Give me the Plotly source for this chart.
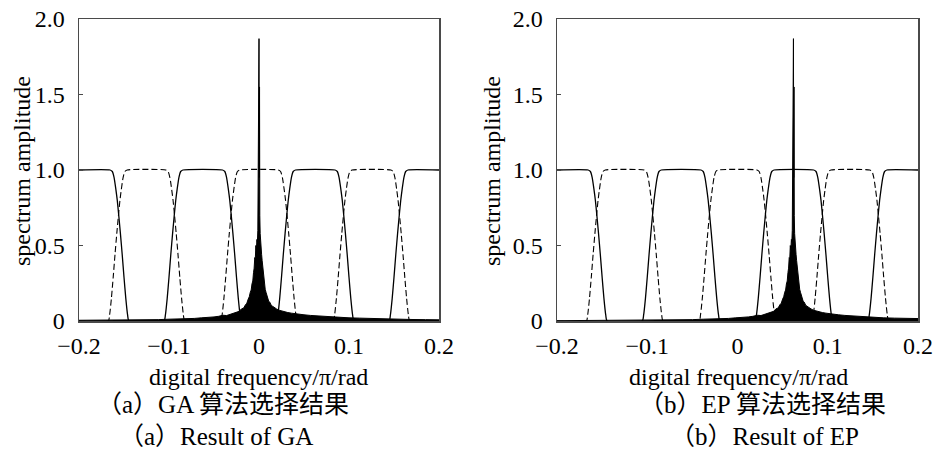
import plotly.graph_objects as go

# ---------------- data ----------------
x_ticks = [-0.2, -0.1, 0, 0.1, 0.2]
x_tick_text = ["\u22120.2", "\u22120.1", "0", "0.1", "0.2"]
y_ticks = [0, 0.5, 1.0, 1.5, 2.0]
y_tick_text = ["0", "0.5", "1.0", "1.5", "2.0"]

# crossover frequencies of the filter bank (same for both panels)
crossovers = [-0.156, -0.094, -0.031, 0.031, 0.094, 0.156]
# falling-edge profile of a filter around a crossover (offset, amplitude)
edge_offsets = [-0.0095, -0.007, -0.005, -0.003, -0.0015, 0.0, 0.002, 0.004, 0.006, 0.008, 0.010, 0.0115]
edge_values = [1.0, 0.99, 0.95, 0.87, 0.80, 0.71, 0.58, 0.44, 0.29, 0.15, 0.04, 0.0]

# spectrum envelope relative to the peak frequency (offset, amplitude)
spec_offsets = [
    -0.262, -0.24, -0.22, -0.20, -0.185, -0.17, -0.155, -0.14, -0.125, -0.112, -0.10, -0.09,
    -0.08, -0.072, -0.064, -0.057, -0.050, -0.045, -0.040, -0.036, -0.032, -0.028, -0.025,
    -0.022, -0.0195, -0.017, -0.015, -0.0135, -0.012, -0.0108, -0.0097, -0.0087, -0.0078,
    -0.0069, -0.0061, -0.0054, -0.0047, -0.0041, -0.0035, -0.0029, -0.0023, -0.0018,
    -0.0013, -0.0009, -0.0006, -0.0003, 0.0, 0.0003, 0.0006, 0.0009, 0.0013, 0.0018,
    0.0023, 0.0029, 0.0035, 0.0041, 0.0047, 0.0054, 0.0061, 0.0069, 0.0078, 0.0087,
    0.0097, 0.0108, 0.012, 0.0135, 0.015, 0.017, 0.0195, 0.022, 0.025, 0.028, 0.032,
    0.036, 0.040, 0.045, 0.050, 0.057, 0.064, 0.072, 0.08, 0.09, 0.10, 0.112, 0.125,
    0.14, 0.155, 0.17, 0.185, 0.20, 0.22, 0.24, 0.262]
spec_values = [
    0.002, 0.003, 0.003, 0.004, 0.003, 0.005, 0.004, 0.006, 0.008, 0.009, 0.012, 0.013,
    0.016, 0.017, 0.021, 0.022, 0.027, 0.031, 0.038, 0.036, 0.045, 0.050, 0.058,
    0.064, 0.080, 0.086, 0.108, 0.118, 0.145, 0.160, 0.190, 0.205, 0.245,
    0.265, 0.320, 0.350, 0.420, 0.410, 0.500, 0.470, 0.540, 0.520,
    0.600, 1.07, 0.75, 1.25, 1.87, 0.95, 1.55, 0.70, 0.58, 0.50,
    0.52, 0.44, 0.40, 0.36, 0.33, 0.27, 0.25, 0.21, 0.19, 0.165,
    0.15, 0.13, 0.125, 0.105, 0.098, 0.088, 0.080, 0.072, 0.066, 0.060, 0.056,
    0.052, 0.048, 0.045, 0.041, 0.037, 0.034, 0.030, 0.027, 0.024, 0.021, 0.019, 0.016,
    0.014, 0.012, 0.010, 0.009, 0.007, 0.005, 0.004, 0.003]

peak_centers = [0.0, 0.062]
y_title = "spectrum amplitude"
x_title = "digital frequency/\u03c0/rad"
captions_cn = ["\uff08a\uff09GA \u7b97\u6cd5\u9009\u62e9\u7ed3\u679c", "\uff08b\uff09EP \u7b97\u6cd5\u9009\u62e9\u7ed3\u679c"]
captions_en = ["\uff08a\uff09Result of GA", "\uff08b\uff09Result of EP"]

# ---------------- build filter curves from the read profile ----------------
def filter_curve(start_high):
    xs, ys = [-0.2], [1.0 if start_high else 0.0]
    high = start_high
    for c in crossovers:
        if high:
            pts = [(c + o, v) for o, v in zip(edge_offsets, edge_values)]
        else:
            pts = [(c - o, v) for o, v in zip(edge_offsets, edge_values)][::-1]
        for px, py in pts:
            xs.append(px)
            ys.append(py)
        high = not high
    xs.append(0.2)
    ys.append(1.0 if high else 0.0)
    return xs, ys

solid_x, solid_y = filter_curve(True)
dash_x, dash_y = filter_curve(False)

W, H = 936, 460
left_px = [(79, 439), (557, 918)]
top_px, bot_px = 19, 321

fig = go.Figure()
serif = "Liberation Serif, Times New Roman, serif"
cap_font = "Liberation Serif, Noto Sans CJK SC"
axis_color = "#4a4a4a"

for i in range(2):
    xa = "x" if i == 0 else "x2"
    ya = "y" if i == 0 else "y2"
    sx = [peak_centers[i] + o for o in spec_offsets]
    fig.add_trace(go.Scatter(x=sx, y=spec_values, mode="lines",
                             line=dict(color="black", width=1),
                             fill="tozeroy", fillcolor="black",
                             xaxis=xa, yaxis=ya, showlegend=False, hoverinfo="skip"))
    fig.add_trace(go.Scatter(x=solid_x, y=solid_y, mode="lines",
                             line=dict(color="black", width=1.3, shape="spline", smoothing=0.6),
                             xaxis=xa, yaxis=ya, showlegend=False, hoverinfo="skip"))
    fig.add_trace(go.Scatter(x=dash_x, y=dash_y, mode="lines",
                             line=dict(color="black", width=1.1, dash="6px,3px", shape="spline", smoothing=0.6),
                             xaxis=xa, yaxis=ya, showlegend=False, hoverinfo="skip"))

layout = dict(width=W, height=H, margin=dict(l=0, r=0, t=0, b=0, autoexpand=False),
              paper_bgcolor="white", plot_bgcolor="white",
              font=dict(family=serif, size=24, color="black"), showlegend=False)

for i in range(2):
    xkey = "xaxis" if i == 0 else "xaxis2"
    ykey = "yaxis" if i == 0 else "yaxis2"
    l, r = left_px[i]
    layout[xkey] = dict(domain=[l / W, r / W], range=[-0.2, 0.2], automargin=False,
                        tickvals=x_ticks, ticktext=x_tick_text,
                        showgrid=False, zeroline=False, showline=True, mirror=True,
                        linecolor=axis_color, linewidth=1.5, ticks="",
                        ticklabelstandoff=3,
                        tickfont=dict(family=serif, size=24, color="black"),
                        anchor="y" if i == 0 else "y2")
    layout[ykey] = dict(domain=[1 - bot_px / H, 1 - top_px / H], range=[0, 2.0], automargin=False,
                        tickvals=y_ticks, ticktext=y_tick_text,
                        showgrid=False, zeroline=False, showline=True, mirror=True,
                        linecolor=axis_color, linewidth=1.5, ticks="inside", ticklen=4,
                        tickcolor=axis_color, ticklabelstandoff=8,
                        tickfont=dict(family=serif, size=24, color="black"),
                        anchor="x" if i == 0 else "x2")

fig.update_layout(**layout)

ann = []
ytitle_x = [22, 492]
xtitle_x = [258, 738]
cap1_x = [223, 762]
cap2_x = [216, 764]
for i in range(2):
    ann.append(dict(text=y_title, x=ytitle_x[i] / W, y=1 - 171 / H, xref="paper", yref="paper",
                    textangle=-90, showarrow=False, xanchor="center", yanchor="middle",
                    font=dict(family=serif, size=24, color="black")))
    ann.append(dict(text=x_title, x=xtitle_x[i] / W, y=1 - 377 / H, xref="paper", yref="paper",
                    showarrow=False, xanchor="center", yanchor="middle",
                    font=dict(family=serif, size=24, color="black")))
    ann.append(dict(text=captions_cn[i], x=cap1_x[i] / W, y=1 - 404 / H, xref="paper", yref="paper",
                    showarrow=False, xanchor="center", yanchor="middle",
                    font=dict(family=cap_font, size=25, color="black")))
    ann.append(dict(text=captions_en[i], x=cap2_x[i] / W, y=1 - 436 / H, xref="paper", yref="paper",
                    showarrow=False, xanchor="center", yanchor="middle",
                    font=dict(family=cap_font, size=25, color="black")))
fig.update_layout(annotations=ann)

fig.write_html("out.html", config={"displayModeBar": False, "staticPlot": True},
               post_script="document.body.style.margin='0';document.body.style.overflow='hidden';")
